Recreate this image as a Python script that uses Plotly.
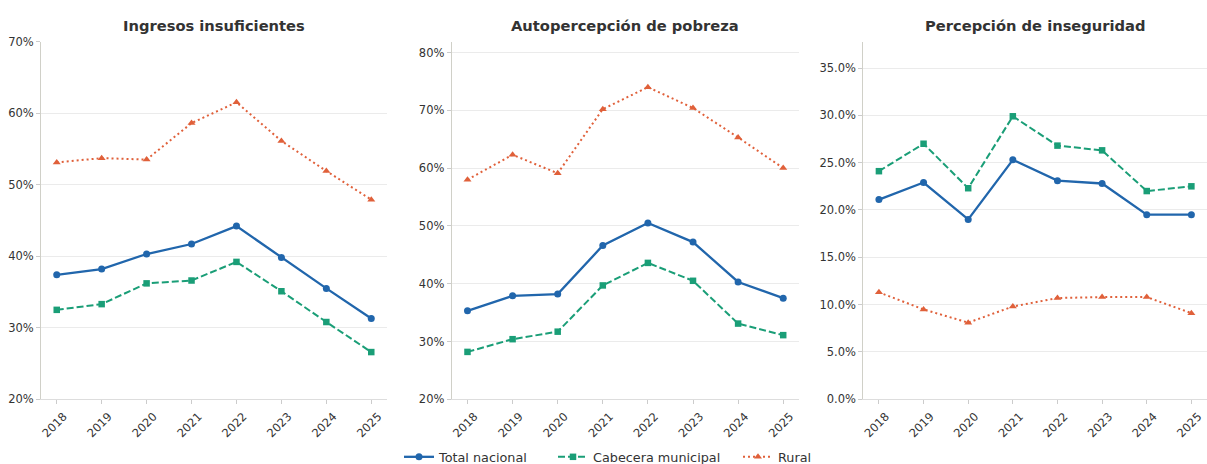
import plotly.graph_objects as go

years = [2018, 2019, 2020, 2021, 2022, 2023, 2024, 2025]
titles = ["Ingresos insuficientes", "Autopercepción de pobreza", "Percepción de inseguridad"]
series_names = ["Total nacional", "Cabecera municipal", "Rural"]

ingresos_total = [37.4, 38.2, 40.3, 41.7, 44.2, 39.8, 35.5, 31.3]
ingresos_cabecera = [32.5, 33.3, 36.2, 36.6, 39.2, 35.1, 30.8, 26.6]
ingresos_rural = [53.1, 53.7, 53.5, 58.6, 61.5, 56.1, 51.9, 47.9]

pobreza_total = [35.3, 37.9, 38.2, 46.6, 50.5, 47.2, 40.3, 37.5]
pobreza_cabecera = [28.2, 30.4, 31.7, 39.7, 43.6, 40.5, 33.1, 31.1]
pobreza_rural = [58.0, 62.3, 59.1, 70.2, 74.0, 70.4, 65.3, 60.0]

inseguridad_total = [21.1, 22.9, 19.0, 25.3, 23.1, 22.8, 19.5, 19.5]
inseguridad_cabecera = [24.1, 27.0, 22.3, 29.9, 26.8, 26.3, 22.0, 22.5]
inseguridad_rural = [11.3, 9.5, 8.1, 9.8, 10.7, 10.8, 10.8, 9.1]

y_ranges = [[20, 70], [20, 81.9], [0, 37.8]]
y_ticks = [[20, 30, 40, 50, 60, 70], [20, 30, 40, 50, 60, 70, 80], [0, 5, 10, 15, 20, 25, 30, 35]]
y_labels = [[f"{v}%" for v in y_ticks[0]], [f"{v}%" for v in y_ticks[1]],
            [f"{v:.1f}%" for v in y_ticks[2]]]

panels = [
    [ingresos_total, ingresos_cabecera, ingresos_rural],
    [pobreza_total, pobreza_cabecera, pobreza_rural],
    [inseguridad_total, inseguridad_cabecera, inseguridad_rural],
]

colors = ["#2166ac", "#1a9e77", "#e0603a"]
dashes = ["solid", "7px,3px", "2px,3px"]
symbols = ["circle", "square", "triangle-up"]
legend_ids = ["legend", "legend2", "legend3"]

W, H = 1207, 464
x_px = [(41, 387), (451.7, 799), (863.3, 1207)]
y_dom = [(H - 399.3) / H, (H - 41.5) / H]
legend_x_px = [399, 553, 738]

fig = go.Figure()
font_family = "DejaVu Sans"

for i, data in enumerate(panels):
    xa = "x" if i == 0 else f"x{i+1}"
    ya = "y" if i == 0 else f"y{i+1}"
    for j, vals in enumerate(data):
        fig.add_trace(go.Scatter(
            x=years, y=vals, mode="lines+markers", name=series_names[j],
            xaxis=xa, yaxis=ya, showlegend=(i == 0), legend=legend_ids[j],
            cliponaxis=False,
            line=dict(color=colors[j], width=2.3 if j == 0 else 2, dash=dashes[j]),
            marker=dict(color=colors[j], size=7 if j != 1 else 6.5, symbol=symbols[j]),
        ))
    dom = [x_px[i][0] / W, x_px[i][1] / W]
    xkey = "xaxis" if i == 0 else f"xaxis{i+1}"
    ykey = "yaxis" if i == 0 else f"yaxis{i+1}"
    fig.update_layout({
        xkey: dict(
            domain=dom, anchor=ya, range=[2017.65, 2025.35], automargin=False,
            tickvals=years, ticktext=[str(y) for y in years], tickangle=-45,
            ticklabelshift=7, ticklabelstandoff=1,
            showgrid=False, zeroline=False, showline=True, linecolor="#dddddd", linewidth=1,
            ticks="outside", ticklen=4, tickcolor="#cccccc",
            tickfont=dict(family=font_family, size=11.5, color="#333333"),
        ),
        ykey: dict(
            domain=y_dom, anchor=xa, range=y_ranges[i], automargin=False,
            tickvals=y_ticks[i], ticktext=y_labels[i],
            showgrid=True, gridcolor="#ebebeb", gridwidth=1, zeroline=False,
            showline=True, linecolor="#d0d0c8", linewidth=1,
            ticks="outside", ticklen=4, tickcolor="#cccccc",
            tickfont=dict(family=font_family, size=11.5, color="#333333"),
        ),
    })
    fig.add_annotation(
        text=f"<b>{titles[i]}</b>", x=(dom[0] + dom[1]) / 2, y=(H - 25) / H,
        xref="paper", yref="paper", showarrow=False, xanchor="center", yanchor="middle",
        font=dict(family=font_family, size=14.7, color="#333333"),
    )

legend_common = dict(orientation="h", xanchor="left", y=(H - 457) / H, yanchor="middle",
                     font=dict(family=font_family, size=12.8, color="#333333"),
                     itemwidth=30, bgcolor="rgba(0,0,0,0)", borderwidth=0)
fig.update_layout(
    width=W, height=H,
    margin=dict(l=0, r=0, t=0, b=0, autoexpand=False),
    paper_bgcolor="white", plot_bgcolor="white",
    legend=dict(x=legend_x_px[0] / W, **legend_common),
    legend2=dict(x=legend_x_px[1] / W, **legend_common),
    legend3=dict(x=legend_x_px[2] / W, **legend_common),
    font=dict(family=font_family),
)

fig.write_html("out.html", config={"displayModeBar": False},
               post_script="document.body.style.margin='0';document.body.style.overflow='hidden';")
